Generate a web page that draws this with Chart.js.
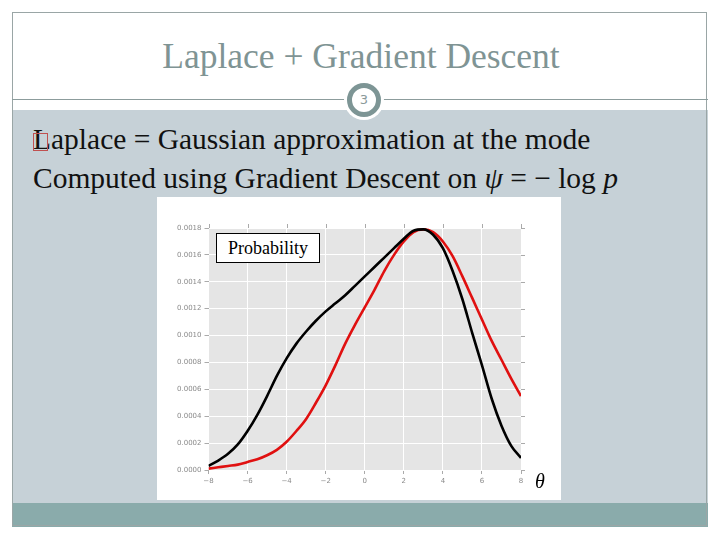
<!DOCTYPE html>
<html>
<head>
<meta charset="utf-8">
<script src="https://cdn.jsdelivr.net/npm/chart.js@4.4.1/dist/chart.umd.min.js"></script>
<style>
  html, body { margin:0; padding:0; background:#ffffff; }
  #slide { position:relative; width:720px; height:540px; overflow:hidden; background:#fff; }
  .abs { position:absolute; }
  #frame { left:12px; top:12px; width:695px; height:514px; border:1px solid #9aa6a6; box-sizing:border-box; }
  #title { left:0; width:722px; top:35px; text-align:center; font-family:"Liberation Serif","DejaVu Serif",serif; font-size:35.5px; color:#7f9494; }
  #rule { left:12px; top:99px; width:696px; height:1px; background:#8c9c9c; }
  #panel { left:12px; top:110px; width:696px; height:393px; background:#c6d1d7; }
  #bar { left:12px; top:503px; width:696px; height:24px; background:#8aabab; }
  #circ { left:347px; top:83px; width:24px; height:24px; border-radius:50%; background:#fff; border:5px solid #7d9595; box-shadow:0 0 0 3px #fff; text-align:center; font-family:"DejaVu Sans",sans-serif; font-size:13px; line-height:24px; color:#8a9a9a; }
  .line { font-family:"Liberation Serif","DejaVu Serif",serif; font-size:29.5px; color:#111; white-space:nowrap; }
  #l1 { left:33px; top:123px; }
  #l2 { left:33px; top:162px; }
  #glyph { left:33px; top:133px; width:15px; height:18px; border:1px solid #c05050; box-sizing:border-box; }
  #chartbox { left:157px; top:197px; width:404px; height:303px; background:#fff; }
  #legend { left:216px; top:233px; width:104px; height:30px; border:1px solid #000; box-sizing:border-box; background:#fff; font-family:"Liberation Serif","DejaVu Serif",serif; font-size:18px; line-height:28px; text-align:center; color:#000; }
  #theta { left:535px; top:470px; font-family:"Liberation Serif","DejaVu Serif",serif; font-style:italic; font-size:20px; color:#000; }
</style>
</head>
<body>
<div id="slide">
  <div class="abs" id="panel"></div>
  <div class="abs" id="bar"></div>
  <div class="abs" id="frame"></div>
  <div class="abs" id="title">Laplace + Gradient Descent</div>
  <div class="abs" id="rule"></div>
  <div class="abs" id="circ">3</div>
  <div class="abs line" id="l1">Laplace = Gaussian approximation at the mode</div>
  <div class="abs" id="glyph"></div>
  <div class="abs line" id="l2">Computed using Gradient Descent on <i>ψ</i> = − log <i>p</i></div>
  <div class="abs" id="chartbox"><canvas id="c" width="404" height="303"></canvas></div>
  <div class="abs" id="legend">Probability</div>
  <div class="abs" id="theta">θ</div>
</div>
<script>
// ---- data ----
const theta = [-8,-7.5,-7,-6.5,-6,-5.5,-5,-4.5,-4,-3.5,-3,-2.5,-2,-1.5,-1,-0.5,0,0.5,1,1.5,2,2.5,3,3.5,4,4.5,5,5.5,6,6.5,7,7.5,8];
const probability = [0.00003,0.00007,0.00012,0.00019,0.00029,0.00041,0.00055,0.00070,0.00083,0.00094,0.00103,0.00111,0.00118,0.00124,0.00130,0.00137,0.00144,0.00151,0.00158,0.00165,0.00172,0.00178,0.00179,0.00175,0.00165,0.00148,0.00127,0.00102,0.00078,0.00053,0.00033,0.00018,0.00009];
const laplaceApprox = [0.00001,0.00002,0.00003,0.00004,0.00006,0.00008,0.00011,0.00015,0.00021,0.00029,0.00038,0.00050,0.00063,0.00078,0.00094,0.00108,0.00121,0.00134,0.00148,0.00160,0.00170,0.00177,0.00179,0.00177,0.00170,0.00159,0.00144,0.00128,0.00112,0.00096,0.00082,0.00068,0.00055];
const xTicks = [-8,-6,-4,-2,0,2,4,6,8];
const yTicks = [0,0.0002,0.0004,0.0006,0.0008,0.0010,0.0012,0.0014,0.0016,0.0018];

const toPts = ys => theta.map((x,i)=>({x:x, y:ys[i]}));

const bgPlugin = {
  id:'plotbg',
  beforeDraw(chart){
    const {ctx, chartArea:a} = chart;
    ctx.save();
    ctx.fillStyle = '#e5e5e5';
    ctx.fillRect(a.left, a.top, a.right-a.left, a.bottom-a.top);
    ctx.restore();
  },
  afterDraw(chart){
    const {ctx, chartArea:a, scales} = chart;
    ctx.save();
    ctx.strokeStyle = '#aaaaaa';
    ctx.lineWidth = 1;
    ctx.beginPath();
    xTicks.forEach(v=>{ const p = Math.round(scales.x.getPixelForValue(v))+0.5; ctx.moveTo(p, a.top); ctx.lineTo(p, a.top-4); });
    yTicks.forEach(v=>{ const p = Math.round(scales.y.getPixelForValue(v))+0.5; ctx.moveTo(a.right, p); ctx.lineTo(a.right+4, p); });
    ctx.stroke();
    ctx.restore();
  }
};

new Chart(document.getElementById('c'), {
  type:'line',
  data:{
    datasets:[
      { label:'Probability', data:toPts(probability), borderColor:'#000000', borderWidth:2.6, pointRadius:0, cubicInterpolationMode:'monotone', fill:false },
      { label:'Laplace', data:toPts(laplaceApprox), borderColor:'#e01010', borderWidth:2.6, pointRadius:0, cubicInterpolationMode:'monotone', fill:false }
    ]
  },
  options:{
    responsive:false,
    animation:false,
    devicePixelRatio:1,
    layout:{ padding:{ top:31, right:40, bottom:0, left:0 } },
    plugins:{ legend:{display:false}, tooltip:{enabled:false} },
    scales:{
      x:{
        type:'linear', min:-8, max:8,
        afterBuildTicks: s => { s.ticks = xTicks.map(v=>({value:v})); },
        afterFit: s => { s.height = 30; },
        grid:{ color:'#ffffff', lineWidth:1, tickColor:'#aaaaaa', tickLength:4, drawTicks:true },
        border:{ display:false },
        ticks:{ color:'#8a8a8a', font:{ family:'DejaVu Sans', size:7 }, padding:3, maxRotation:0,
          callback: v => String(v).replace('-', '\u2212') }
      },
      y:{
        type:'linear', min:0, max:0.0018,
        afterBuildTicks: s => { s.ticks = yTicks.map(v=>({value:v})); },
        afterFit: s => { s.width = 51.5; },
        grid:{ color:'#ffffff', lineWidth:1, tickColor:'#aaaaaa', tickLength:4, drawTicks:true },
        border:{ display:false },
        ticks:{ color:'#8a8a8a', font:{ family:'DejaVu Sans', size:7 }, padding:3,
          callback: v => v.toFixed(4) }
      }
    }
  },
  plugins:[bgPlugin]
});
</script>
</body>
</html>
